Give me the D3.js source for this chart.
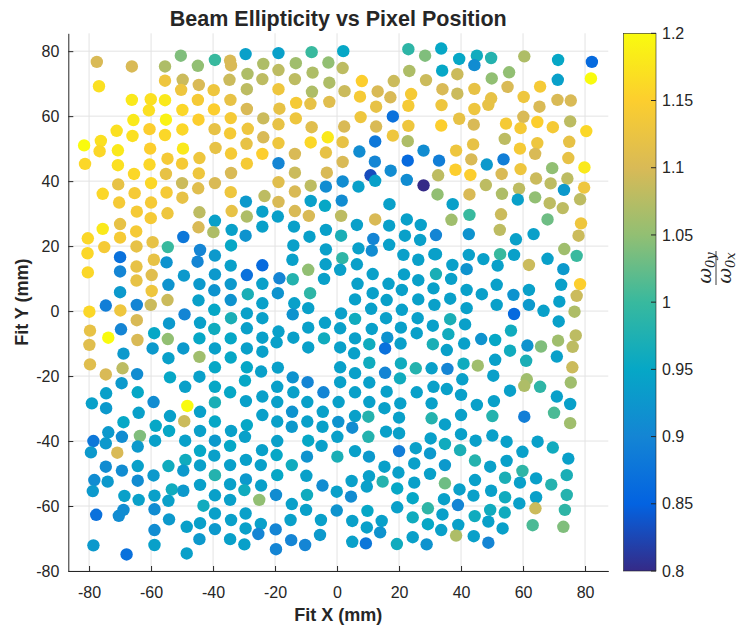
<!DOCTYPE html>
<html>
<head>
<meta charset="utf-8">
<script src="https://cdn.jsdelivr.net/npm/d3@7"></script>
<style>
  body { margin: 0; background: #fff; }
  text { fill: #262626; }
</style>
</head>
<body>
<div id="canvas"></div>
<script>
// fitted beam centre (mm) and ellipticity ratio w0y/w0x for every pixel
const fitX = [
  -77.5,-66.2,-55.5,-50.4,-44.9,-39.4,-34.5,-34.2,-29.5,-28.9,
  -76.8,-55.5,-49.8,-44.6,-50.3,-39.8,-34.7,-29.1,-66.2,-60.1,
  -55.5,-60.7,-49.9,-44.9,-39.7,-34.4,-29.1,-65.7,-55.2,-44.7,
  -34.3,-71.1,-60.5,-55.5,-49.9,-39.5,-34.5,-28.8,-66.0,-76.2,
  -81.6,-76.6,-70.7,-60.3,-49.7,-39.2,-34.2,-29.2,-81.3,-70.7,
  -60.5,-54.7,-50.0,-44.4,-29.1,-65.5,-55.2,-44.6,-34.2,-70.6,
  -60.0,-50.0,-39.4,-75.6,-65.3,-55.0,-44.8,-49.9,-34.3,-29.4,
  -70.3,-60.0,
  -18.9,-8.2,2.0,23.0,28.4,-23.8,-13.3,-2.8,-18.9,1.8,
  -24.1,-13.6,-7.9,-2.5,8.0,18.3,23.3,28.7,-18.9,-8.1,
  2.4,7.4,13.1,17.2,23.9,23.0,-18.6,-13.2,-8.6,-2.5,
  12.6,18.0,-23.8,-13.3,7.6,-18.9,-8.2,2.3,12.6,23.0,
  -23.8,-3.0,-8.5,-18.9,1.8,12.3,18.0,22.8,-24.1,-13.6,
  -3.6,7.2,27.9,-18.9,1.8,12.2,22.8,-13.6,-3.3,17.3,
  10.8,12.3,1.8,22.5,27.9,-18.9,-8.5,-3.6,6.9,-23.4,
  -13.6,-18.9,-8.5,1.5,-3.9,16.9,
  33.6,39.4,45.1,44.3,49.7,60.4,71.3,82.2,33.9,38.8,
  49.9,55.5,71.2,81.9,34.0,38.8,44.3,55.0,65.5,33.7,
  44.3,48.8,49.7,60.2,65.3,71.1,75.4,39.4,33.6,44.1,
  54.5,59.2,60.1,64.6,69.6,75.2,80.4,54.1,43.9,38.4,
  59.0,64.6,74.9,63.9,74.6,32.9,43.3,48.3,53.7,38.2,
  43.0,32.6,53.1,59.2,69.4,79.8,48.0,64.2,68.9,74.3,
  73.2,79.7,32.4,42.7,53.2,58.7,58.3,63.9,68.6,78.4,
  37.3,72.8,
  -64.6,-60.1,-54.7,-44.4,-39.4,-34.0,-29.1,-75.6,-70.0,-64.8,
  -44.7,-39.9,-34.0,-29.5,-80.4,-70.0,-49.6,-75.1,-64.7,-59.5,
  -54.6,-44.2,-34.2,-80.5,-70.0,-59.1,-55.0,-45.0,-39.4,-34.3,
  -80.4,-70.0,-64.7,-59.8,-49.4,-39.4,-29.1,-64.7,-54.4,-44.4,
  -39.6,-34.3,-28.8,-70.0,-59.8,-54.7,-44.7,-34.3,-79.9,-74.6,
  -69.9,-64.6,-60.1,-49.2,-39.6,-34.2,-29.1,-64.6,-54.2,-44.2,
  -39.6,-29.1,-79.7,-73.8,-69.7,-64.4,-59.0,-54.6,-49.6,-44.4,
  -34.3,-79.9,-68.9,-59.5,-54.4,-44.4,-39.4,-34.3,-29.1,-79.7,
  -74.6,-69.2,-64.5,-53.9,-44.4,-39.4,-29.1,-69.5,-74.5,-64.3,
  -49.0,-39.4,-34.5,-29.7,
  -24.1,-13.6,-19.1,-9.1,1.3,6.4,12.3,22.5,27.0,-24.1,
  -13.9,-3.6,16.8,-8.9,1.3,11.7,21.9,26.8,-14.1,-3.6,
  6.9,11.2,16.8,21.4,31.4,-24.1,-14.4,-9.3,-3.7,1.7,
  1.0,6.4,26.2,-18.6,-14.3,-4.2,11.5,21.6,-24.1,6.6,
  16.6,26.2,-19.1,-8.7,11.5,20.9,31.1,-24.1,-13.8,5.8,
  16.0,26.2,31.4,-14.3,-9.3,1.3,11.0,20.9,-24.1,5.8,
  15.8,26.0,-18.9,-9.3,-3.9,1.0,11.2,20.6,30.9,-24.1,
  -14.1,-4.2,5.8,16.2,25.7,-19.5,-9.3,1.0,10.4,15.5,
  20.5,30.9,-24.1,5.5,-19.1,1.0,10.4,20.6,25.4,15.5,
  30.5,-24.5,-14.3,-9.5,1.0,5.8,10.4,20.3,-19.3,-4.4,
  5.8,16.0,25.7,-14.1,31.1,
  42.7,52.9,36.9,52.5,67.9,78.7,31.9,42.5,57.7,63.4,
  77.9,31.9,42.5,47.2,52.6,57.1,73.3,77.3,37.2,41.8,
  51.8,61.9,67.9,73.0,31.9,36.8,51.5,61.9,72.3,78.4,
  41.8,46.7,56.9,36.5,77.3,41.8,51.5,61.9,71.7,57.1,
  66.6,76.6,36.5,41.3,71.5,56.1,35.9,46.5,51.0,41.0,
  61.4,65.8,71.3,77.0,76.0,35.4,55.8,70.9,51.0,61.0,
  35.6,40.8,45.4,50.4,75.9,40.4,61.2,60.4,65.5,75.4,
  35.4,55.8,
  -79.1,-74.5,-64.0,-59.2,-53.9,-48.3,-49.3,-44.2,-39.4,-29.4,
  -68.9,-58.5,-39.4,-29.1,-73.8,-69.4,-63.6,-54.2,-44.2,-34.2,
  -78.6,-74.6,-64.3,-58.7,-49.0,-39.4,-29.7,-79.4,-70.9,-44.2,
  -34.5,-48.9,-39.6,-74.6,-69.4,-64.3,-54.4,-49.6,-44.2,-34.5,
  -29.4,-59.2,-39.4,-78.3,-74.0,-64.3,-44.2,-34.5,-29.4,-78.8,
  -53.3,-49.6,-29.9,-68.6,-58.9,-54.4,-64.0,-39.4,-34.5,-43.1,
  -77.7,-70.4,-68.9,-58.9,-39.4,-29.5,-54.2,-44.2,-34.2,-58.9,
  -48.5,-39.4,-29.5,-44.4,-34.5,-78.6,-58.9,-29.9,-67.9,-48.5,
  -24.1,-19.3,-9.6,0.5,10.4,20.4,30.5,-24.1,-14.5,-4.6,
  5.8,10.1,15.3,20.0,30.5,-19.3,-14.6,-9.6,-4.7,0.4,
  4.9,15.8,20.0,10.1,0.1,30.2,-19.3,-9.3,-5.0,5.8,
  20.0,25.4,-24.2,-19.5,-24.6,-14.6,-9.7,0.1,10.3,15.3,
  24.9,30.0,-19.3,-9.9,-24.5,-4.7,4.7,10.3,14.7,19.8,
  24.9,30.0,-25.1,-19.7,-9.7,-0.1,4.5,9.6,19.4,24.4,
  -14.6,-10.0,-0.1,4.9,9.8,19.4,29.3,24.4,-15.0,-5.2,
  -24.6,-25.4,-19.8,9.6,14.4,13.9,29.3,-5.5,-14.8,-10.3,
  4.9,9.3,19.3,24.4,28.9,-19.7,
  40.0,70.9,45.1,50.6,75.2,40.0,50.1,60.4,70.0,75.2,
  34.8,40.0,44.7,50.1,54.7,64.7,69.6,34.8,39.7,59.8,
  74.6,44.5,54.7,34.8,49.4,59.8,74.1,44.5,54.2,59.0,
  64.2,69.1,34.8,39.5,49.7,74.1,34.5,44.0,54.2,64.2,
  39.0,58.8,64.0,73.5,34.0,44.4,49.4,54.1,48.8,33.6,
  39.1,53.4,63.1,73.0,38.4,44.1,48.8
];

const fitY = [
  76.7,75.3,75.3,78.6,75.5,77.3,77.1,75.6,79.1,73.0,
  69.2,70.9,71.2,69.6,68.1,68.0,71.2,68.3,65.0,65.2,
  64.9,61.8,61.9,65.0,62.1,65.0,62.2,58.8,58.9,58.9,
  59.4,55.5,56.0,54.2,55.9,56.0,54.7,56.1,53.9,52.4,
  51.0,49.2,49.5,50.0,50.0,50.2,48.5,51.5,45.3,44.9,
  45.1,46.9,45.4,47.1,45.4,42.2,42.2,42.4,42.5,39.0,
  39.4,39.4,39.4,36.1,36.3,36.5,37.8,34.9,36.6,33.7,
  33.4,33.4,
  79.4,79.7,80.0,80.6,78.6,76.1,76.3,76.5,74.2,74.8,
  71.4,71.4,73.4,70.3,70.8,70.8,73.9,71.1,68.3,67.5,
  67.7,66.0,67.6,65.8,66.8,63.2,62.3,64.1,63.8,64.4,
  62.9,59.9,59.3,59.3,59.7,57.5,56.6,56.8,56.8,57.0,
  53.5,53.5,51.9,51.7,52.0,52.2,54.0,52.3,48.4,48.4,
  48.8,49.1,49.4,45.5,45.9,46.0,46.3,42.6,42.6,43.2,
  41.8,40.1,39.9,40.4,38.7,39.7,38.6,38.3,38.3,35.4,
  36.8,33.6,33.9,34.0,32.4,32.9,
  80.8,77.6,78.6,75.7,77.9,78.4,77.3,76.7,74.0,72.9,
  71.6,73.5,71.2,71.6,68.3,66.9,68.4,69.0,69.1,63.4,
  62.2,63.5,65.5,65.9,62.9,65.0,64.8,59.2,57.1,57.4,
  57.7,56.3,59.8,58.2,56.6,58.4,55.4,53.0,51.3,49.4,
  50.0,51.7,52.1,48.4,47.1,46.3,46.7,45.1,46.7,43.5,
  41.9,41.8,42.2,43.7,44.0,44.2,38.8,40.8,39.3,40.8,
  37.3,38.0,35.9,35.9,36.1,37.7,34.3,35.0,33.2,34.4,
  32.9,31.7,
  30.6,28.6,30.1,30.4,27.8,30.8,29.1,25.3,26.8,24.5,
  25.8,24.3,25.0,23.2,22.4,22.6,22.8,19.7,19.9,21.2,
  19.7,18.8,20.2,17.8,16.6,15.8,15.0,15.2,17.1,14.0,
  11.9,12.2,13.7,11.1,10.9,11.3,11.1,9.4,8.1,8.3,
  6.4,8.3,5.2,5.8,6.2,3.4,3.3,3.4,-0.2,1.7,
  0.2,1.9,1.9,-1.0,0.4,-2.2,-0.7,-2.8,-3.8,-3.6,
  -5.5,-5.3,-6.0,-8.2,-5.6,-8.9,-6.8,-8.6,-11.5,-8.4,
  -8.4,-10.4,-13.1,-11.5,-14.5,-14.1,-11.5,-14.3,-11.5,-16.4,
  -19.5,-17.6,-19.4,-20.4,-20.2,-17.3,-17.3,-22.2,-25.3,-25.0,
  -23.3,-23.3,-25.0,-21.4,
  30.6,30.8,29.1,29.3,29.3,26.5,28.2,28.2,26.5,26.0,
  26.0,25.0,26.3,22.9,23.2,22.2,23.2,21.9,20.2,19.0,
  19.3,18.6,20.4,17.3,17.5,14.1,15.8,12.7,14.4,16.3,
  12.7,14.4,15.8,10.1,9.8,9.9,11.4,11.3,8.4,8.4,
  8.4,9.5,5.5,5.5,5.5,6.5,7.0,2.4,2.4,3.6,
  3.4,3.6,1.9,-1.0,0.9,-0.7,0.7,0.4,-2.2,-2.4,
  -2.2,-2.2,-6.3,-5.1,-3.6,-5.3,-5.5,-5.1,-4.5,-8.2,
  -8.2,-8.4,-8.4,-8.2,-6.8,-9.6,-11.2,-11.2,-10.2,-11.5,
  -10.0,-10.2,-12.5,-13.0,-17.4,-17.3,-15.9,-16.1,-17.6,-19.0,
  -17.6,-18.6,-20.4,-21.9,-21.9,-19.1,-22.0,-20.7,-23.3,-25.0,
  -25.0,-24.8,-25.0,-25.0,-23.3,
  29.6,29.8,28.1,25.0,28.2,27.0,23.4,23.7,22.1,23.7,
  23.2,17.5,17.3,16.0,17.5,17.3,19.1,17.0,14.2,12.9,
  14.0,14.2,16.1,12.9,11.4,9.9,8.1,6.5,8.1,8.3,
  6.5,5.2,5.0,3.8,4.7,0.9,1.9,1.9,2.9,-0.9,
  0.1,-0.2,-2.5,-4.1,-3.2,-6.0,-7.1,-8.6,-8.9,-10.0,
  -10.6,-10.9,-9.1,-7.5,-11.0,-12.0,-12.2,-14.0,-15.0,-15.3,
  -17.8,-16.2,-16.8,-19.9,-17.3,-21.0,-21.0,-23.0,-23.3,-22.0,
  -24.0,-24.5,
  -28.4,-29.9,-31.3,-28.0,-32.3,-29.2,-33.9,-31.0,-28.1,-27.7,
  -34.2,-35.3,-34.0,-35.1,-37.3,-38.7,-38.4,-36.9,-36.9,-36.9,
  -40.0,-40.7,-41.7,-39.9,-39.9,-39.9,-38.7,-43.5,-43.6,-43.0,
  -41.5,-45.8,-44.5,-47.9,-49.1,-47.7,-47.7,-49.1,-47.5,-47.4,
  -45.8,-50.6,-50.5,-52.0,-52.5,-52.2,-53.5,-53.3,-51.8,-55.4,
  -54.9,-55.3,-55.1,-56.9,-56.8,-58.4,-58.1,-56.7,-58.1,-59.9,
  -62.7,-63.0,-61.2,-61.0,-62.3,-62.3,-64.1,-65.3,-64.3,-67.4,
  -66.4,-67.1,-66.9,-70.2,-70.2,-72.1,-72.0,-71.8,-74.9,-74.6,
  -26.3,-28.0,-28.0,-28.0,-28.0,-28.4,-28.4,-32.0,-31.0,-31.0,
  -32.3,-32.5,-29.9,-32.8,-33.0,-34.0,-35.6,-34.0,-35.6,-34.1,
  -35.9,-37.1,-37.6,-38.7,-38.7,-39.2,-40.0,-39.9,-41.5,-43.1,
  -43.1,-42.2,-42.8,-44.3,-47.4,-47.4,-44.8,-44.8,-44.8,-47.9,
  -46.9,-43.8,-50.5,-50.7,-53.7,-53.7,-52.3,-50.8,-52.5,-49.7,
  -52.8,-50.1,-58.1,-56.6,-56.6,-55.6,-57.1,-54.0,-54.6,-57.6,
  -59.4,-61.2,-61.4,-64.6,-61.5,-60.4,-60.7,-63.5,-64.3,-64.3,
  -65.5,-68.6,-67.2,-66.6,-64.6,-68.1,-65.6,-68.9,-70.5,-72.0,
  -71.0,-71.5,-71.7,-69.6,-71.8,-73.3,
  -25.8,-26.3,-28.9,-27.7,-28.6,-32.0,-32.3,-32.5,-31.3,-34.5,
  -34.9,-37.9,-39.9,-38.3,-40.2,-40.2,-42.0,-40.9,-42.8,-43.3,
  -45.4,-46.0,-46.1,-47.4,-47.9,-49.2,-50.5,-52.0,-51.3,-52.8,
  -51.5,-53.4,-53.0,-54.9,-55.3,-56.6,-57.9,-56.8,-57.3,-57.3,
  -59.7,-59.2,-60.7,-61.2,-62.6,-63.1,-61.2,-62.0,-64.8,-67.4,
  -65.8,-66.9,-65.9,-66.4,-69.1,-69.3,-71.3
];

const ratio = [
  1.10,1.10,1.07,1.04,1.05,1.00,1.10,1.10,0.94,1.07,
  1.17,1.13,1.09,1.10,1.13,1.13,1.09,1.08,1.18,1.17,
  1.18,1.17,1.16,1.14,1.15,1.12,1.10,1.18,1.19,1.15,
  1.14,1.17,1.15,1.16,1.16,1.12,1.14,1.13,1.17,1.17,
  1.20,1.16,1.18,1.15,1.18,1.12,1.14,1.12,1.16,1.17,
  1.16,1.14,1.14,1.13,1.14,1.16,1.12,1.13,1.10,1.12,
  1.16,1.09,1.10,1.16,1.14,1.14,1.11,1.12,1.13,0.93,
  1.14,1.14,
  0.94,1.00,0.95,0.99,1.04,1.07,1.06,1.05,1.08,1.08,
  1.08,1.08,1.07,1.07,1.15,1.09,1.07,1.09,1.13,1.07,
  1.09,1.14,1.10,1.10,1.14,1.14,1.12,1.14,1.12,1.11,
  1.12,0.87,1.09,1.13,1.13,1.12,1.11,1.10,1.10,1.13,
  1.10,1.18,1.16,1.13,1.12,0.88,1.13,1.07,1.15,1.10,
  1.12,0.91,0.91,0.90,1.10,0.90,0.86,1.09,1.10,0.91,
  0.83,0.94,0.91,0.91,0.80,1.11,1.08,0.91,0.94,1.08,
  1.10,1.10,0.94,0.91,0.95,0.94,
  0.95,0.95,0.96,0.91,0.98,1.07,0.95,0.86,0.95,1.09,
  1.05,1.05,0.94,1.20,1.10,1.09,1.12,1.10,1.14,1.13,
  1.13,1.12,1.12,1.13,1.10,1.10,1.10,1.12,1.15,1.10,
  1.14,1.14,1.10,1.15,1.14,1.08,1.16,1.08,1.12,1.13,
  1.14,1.13,1.12,1.10,1.12,0.89,1.10,0.93,0.89,1.15,
  1.15,1.08,1.10,1.13,1.05,1.18,1.08,1.09,1.08,1.08,
  0.93,1.13,1.05,1.10,1.07,1.08,0.94,1.05,1.08,1.08,
  0.94,1.08,
  1.14,1.14,1.13,1.08,0.94,1.12,1.07,1.18,1.12,1.14,
  1.10,1.07,0.94,0.92,1.16,1.14,0.88,1.14,1.12,1.12,
  1.00,0.90,0.95,1.16,0.87,1.12,0.92,0.90,0.93,0.94,
  1.16,0.90,1.12,1.11,0.93,0.93,0.87,1.12,0.92,0.93,
  0.92,0.93,0.97,0.93,1.13,1.09,0.94,0.92,1.16,0.89,
  1.13,0.90,1.09,0.90,0.95,0.97,0.94,1.10,0.93,0.94,
  0.96,0.94,1.12,1.20,0.90,1.10,0.95,1.05,0.93,0.95,
  0.95,1.11,0.93,0.93,0.94,1.06,0.94,0.95,0.94,1.11,
  1.10,1.08,0.91,0.95,0.94,0.95,0.95,0.93,0.94,0.95,
  0.94,0.95,0.95,0.95,
  0.94,1.10,0.94,1.10,1.08,0.94,1.10,0.94,0.94,0.94,
  0.94,0.94,0.94,0.94,0.97,0.90,0.94,0.94,0.94,0.94,
  0.94,0.91,0.94,0.94,0.94,0.86,0.94,1.05,0.94,0.99,
  0.94,0.94,0.94,0.90,0.98,0.94,0.94,0.94,0.94,0.94,
  0.94,0.94,0.92,0.99,0.94,0.94,0.94,0.94,0.94,0.94,
  0.94,0.94,0.94,0.92,0.94,0.94,0.94,0.94,0.94,0.96,
  0.94,0.94,0.94,0.94,0.94,0.94,0.94,0.94,0.94,0.94,
  0.94,0.96,0.94,0.92,0.94,0.94,0.94,0.94,0.96,0.87,
  0.94,0.97,0.94,0.94,0.94,0.94,0.96,0.96,0.98,0.90,
  0.94,0.94,0.92,0.90,0.94,0.94,0.94,0.96,0.94,0.90,
  0.94,0.94,0.94,0.94,0.94,
  1.00,1.09,1.06,1.08,1.03,1.13,0.90,0.92,0.94,0.94,
  1.09,0.94,0.94,0.94,1.00,0.94,1.06,1.00,0.94,0.92,
  0.94,1.09,0.94,0.93,0.97,0.94,0.94,0.94,0.94,1.15,
  0.94,0.94,0.92,0.94,1.09,0.94,0.94,0.93,0.94,0.86,
  0.94,1.07,0.97,0.94,0.94,0.96,0.96,0.92,0.95,0.94,
  0.92,1.04,1.06,1.08,1.08,0.94,0.96,0.94,0.94,0.97,
  0.90,0.96,1.06,0.94,1.09,0.94,1.06,1.07,0.99,1.06,
  0.94,0.94,
  0.94,0.93,0.94,0.91,0.94,1.20,1.09,0.94,0.97,0.94,
  0.95,0.95,0.95,0.95,0.93,0.91,1.04,0.95,0.94,0.94,
  0.88,0.93,0.93,0.94,0.94,0.93,0.94,0.93,1.10,0.95,
  0.95,0.96,0.94,0.91,0.91,0.94,0.96,0.93,0.94,0.94,
  0.94,0.93,0.98,0.91,0.93,0.91,0.94,0.94,0.93,0.93,
  0.96,0.93,0.96,0.94,0.94,0.94,0.94,0.94,0.94,0.96,
  0.87,0.91,0.91,0.91,0.94,0.94,0.93,0.94,0.94,0.91,
  0.94,0.93,0.94,0.93,0.94,0.93,0.94,0.94,0.87,0.94,
  0.94,0.94,0.94,0.94,0.94,0.94,0.94,0.94,0.92,0.94,
  0.94,0.98,0.94,0.94,0.98,0.94,0.93,0.94,0.94,0.92,
  0.91,0.94,0.94,0.98,0.94,0.94,0.94,0.95,0.94,0.94,
  0.89,0.94,0.94,0.95,0.94,0.96,0.92,0.97,0.93,0.94,
  0.94,0.93,0.95,0.94,0.94,0.91,0.94,0.94,0.98,0.94,
  0.94,0.94,1.05,0.91,0.96,0.94,0.91,0.94,0.95,0.95,
  0.94,0.94,0.92,0.94,0.95,0.94,0.99,0.96,0.94,0.94,
  0.94,0.90,0.90,0.94,0.94,0.92,0.95,0.93,0.90,0.90,
  0.94,0.88,0.96,0.94,0.92,0.90,
  0.94,0.94,0.94,0.94,0.94,0.94,0.98,0.89,1.01,1.06,
  0.94,0.94,0.94,0.94,0.94,0.94,0.96,0.96,0.97,0.94,
  0.94,0.98,0.94,0.93,0.94,0.99,0.97,0.94,0.97,0.94,
  0.94,0.98,1.03,0.94,0.94,0.98,0.94,0.94,0.96,0.94,
  0.90,0.94,1.09,0.99,0.94,0.96,0.96,0.96,0.94,0.94,
  0.94,0.94,1.01,1.04,1.07,0.94,0.90
];

const xTicks = [-80, -60, -40, -20, 0, 20, 40, 60, 80];
const yTicks = [-80, -60, -40, -20, 0, 20, 40, 60, 80];
const cbTicks = [0.8, 0.85, 0.9, 0.95, 1, 1.05, 1.1, 1.15, 1.2];

// parula colormap sampled at 9 evenly spaced points
const parulaColors = ["#352a87", "#0363e1", "#1485d4", "#06a7c6", "#38b99e",
                      "#92bf73", "#d9ba56", "#fcce2e", "#f9fb0e"];

const width = 744;
const height = 628;
const margin = { top: 33.3, left: 68.3, bottom: 57, right: 135.7 };
const iwidth = width - margin.left - margin.right;
const iheight = height - margin.top - margin.bottom;
const font = "'Liberation Sans', Arial, Helvetica, sans-serif";

const svg = d3.select("#canvas").append("svg")
  .attr("width", width)
  .attr("height", height);

const g = svg.append("g")
  .attr("transform", `translate(${margin.left}, ${margin.top})`);

const x = d3.scaleLinear().domain([-86.7, 87.5]).range([0, iwidth]);
const y = d3.scaleLinear().domain([-80, 85.5]).range([iheight, 0]);

const color = d3.scaleLinear()
  .domain(cbTicks)
  .range(parulaColors)
  .clamp(true);

// grid
g.append("g").selectAll("line").data(xTicks).join("line")
  .attr("x1", (d) => x(d)).attr("x2", (d) => x(d))
  .attr("y1", 0).attr("y2", iheight)
  .attr("stroke", "#e3e3e3");
g.append("g").selectAll("line").data(yTicks).join("line")
  .attr("y1", (d) => y(d)).attr("y2", (d) => y(d))
  .attr("x1", 0).attr("x2", iwidth)
  .attr("stroke", "#e3e3e3");

// one marker per pixel
g.append("g").selectAll("circle").data(d3.range(fitX.length)).join("circle")
  .attr("cx", (i) => x(fitX[i]))
  .attr("cy", (i) => y(fitY[i]))
  .attr("r", 6.2)
  .attr("fill", (i) => color(ratio[i]));

const xAxis = g.append("g")
  .attr("transform", `translate(0, ${iheight})`)
  .call(d3.axisBottom(x).tickValues(xTicks).tickSizeInner(-5).tickSizeOuter(0)
    .tickPadding(16).tickFormat((d) => String(d)));
const yAxis = g.append("g")
  .call(d3.axisLeft(y).tickValues(yTicks).tickSizeInner(-5).tickSizeOuter(0)
    .tickPadding(9).tickFormat((d) => String(d)));

[xAxis, yAxis].forEach((a) => {
  a.attr("font-family", font).attr("font-size", 16);
  a.selectAll("path, line").attr("stroke", "#262626");
  a.selectAll("text").attr("fill", "#262626");
});

// titles
svg.append("text")
  .attr("x", margin.left + iwidth / 2).attr("y", 26)
  .attr("text-anchor", "middle")
  .attr("font-family", font).attr("font-weight", "bold").attr("font-size", 21.5)
  .text("Beam Ellipticity vs Pixel Position");
svg.append("text")
  .attr("x", margin.left + iwidth / 2).attr("y", 621)
  .attr("text-anchor", "middle")
  .attr("font-family", font).attr("font-weight", "bold").attr("font-size", 18)
  .text("Fit X (mm)");
svg.append("text")
  .attr("transform", `translate(28, ${margin.top + iheight / 2}) rotate(-90)`)
  .attr("text-anchor", "middle")
  .attr("font-family", font).attr("font-weight", "bold").attr("font-size", 18)
  .text("Fit Y (mm)");

// colorbar
const cbX = 623.5;
const cbW = 32.5;
const cy = d3.scaleLinear().domain([0.8, 1.2]).range([margin.top + iheight, margin.top]);

const grad = svg.append("defs").append("linearGradient")
  .attr("id", "parula")
  .attr("x1", 0).attr("y1", 1).attr("x2", 0).attr("y2", 0);
grad.selectAll("stop").data(cbTicks).join("stop")
  .attr("offset", (d, i) => i / (cbTicks.length - 1))
  .attr("stop-color", (d) => color(d));

svg.append("rect")
  .attr("x", cbX).attr("y", margin.top)
  .attr("width", cbW).attr("height", iheight)
  .attr("fill", "url(#parula)")
  .attr("stroke", "#262626").attr("stroke-width", 0.6);

const cb = svg.append("g").attr("transform", `translate(${cbX + cbW}, 0)`);
cb.selectAll("line").data(cbTicks).join("line")
  .attr("x1", -5).attr("x2", 0)
  .attr("y1", (d) => cy(d)).attr("y2", (d) => cy(d))
  .attr("stroke", "#262626");
cb.selectAll("text").data(cbTicks).join("text")
  .attr("x", 6).attr("y", (d) => cy(d)).attr("dy", "0.35em")
  .attr("font-family", font).attr("font-size", 16)
  .text((d) => String(d));

// colorbar label: w0y / w0x as a stacked fraction
const serif = "'DejaVu Serif', 'Liberation Serif', serif";
const frac = svg.append("g").attr("transform", "translate(716, 268) rotate(-90)");
const num = frac.append("text").attr("x", 0).attr("y", -5).attr("text-anchor", "middle")
  .attr("font-family", serif).attr("font-style", "italic");
num.append("tspan").attr("font-size", 19).text("ω");
num.append("tspan").attr("font-size", 13).attr("dy", 4).text("0y");
frac.append("line")
  .attr("x1", -17).attr("x2", 17).attr("y1", 0).attr("y2", 0)
  .attr("stroke", "#262626").attr("stroke-width", 0.9);
const den = frac.append("text").attr("x", 0).attr("y", 15).attr("text-anchor", "middle")
  .attr("font-family", serif).attr("font-style", "italic");
den.append("tspan").attr("font-size", 19).text("ω");
den.append("tspan").attr("font-size", 13).attr("dy", 4).text("0x");
</script>
</body>
</html>
